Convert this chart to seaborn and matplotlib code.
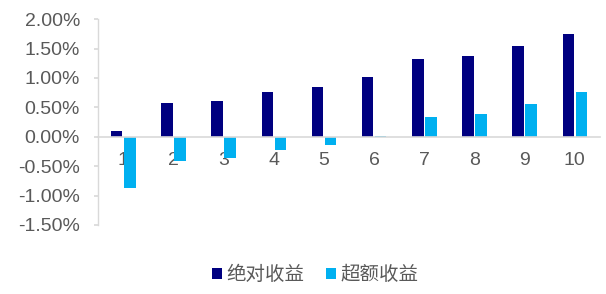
import matplotlib
matplotlib.use("Agg")
import matplotlib.pyplot as plt
import seaborn as sns
import pandas as pd
from matplotlib.ticker import FuncFormatter

categories = ["1", "2", "3", "4", "5", "6", "7", "8", "9", "10"]
absolute_ret = [0.10, 0.57, 0.61, 0.76, 0.84, 1.01, 1.32, 1.38, 1.54, 1.75]
excess_ret = [-0.87, -0.41, -0.37, -0.22, -0.14, 0.02, 0.33, 0.39, 0.55, 0.76]
series_names = ["绝对收益", "超额收益"]
colors = ["#000080", "#00B0F0"]

df = pd.DataFrame({
    "cat": categories * 2,
    "val": absolute_ret + excess_ret,
    "series": [series_names[0]] * len(categories) + [series_names[1]] * len(categories),
})

sns.set_theme(style="white")
plt.rcParams["font.family"] = ["Liberation Sans", "Noto Sans CJK SC", "DejaVu Sans"]

fig = plt.figure(figsize=(6.06, 2.94), dpi=100)
ax = fig.add_axes([0.162, 0.235, 0.828, 0.700])

sns.barplot(data=df, x="cat", y="val", hue="series", palette=colors,
            width=0.52, gap=0.12, ax=ax, order=categories,
            hue_order=series_names, edgecolor="none", saturation=1)

ax.set_xlim(-0.5, 9.5)
ax.set_ylim(-1.5, 2.0)
ax.set_yticks([-1.5, -1.0, -0.5, 0, 0.5, 1.0, 1.5, 2.0])
ax.yaxis.set_major_formatter(FuncFormatter(lambda v, p: f"{v:.2f}%"))
ax.set_xlabel("")
ax.set_ylabel("")

for s in ["top", "right"]:
    ax.spines[s].set_visible(False)
ax.spines["left"].set_color("#D9D9D9")
ax.spines["left"].set_linewidth(1.0)
ax.spines["bottom"].set_position(("data", 0))
ax.spines["bottom"].set_color("#D9D9D9")
ax.spines["bottom"].set_linewidth(1.2)
ax.set_axisbelow(True)

ax.tick_params(axis="y", which="both", left=True, length=3, color="#D9D9D9",
               labelsize=14, labelcolor="#595959", pad=10)
ax.tick_params(axis="x", bottom=False, length=0, labelsize=14,
               labelcolor="#595959", pad=11)

leg = ax.legend(loc="center", ncol=2,
                frameon=False, handlelength=0.5, handleheight=0.5,
                handletextpad=0.25, columnspacing=1.1,
                prop={"family": ["Noto Sans CJK SC"], "size": 14})
for t in leg.get_texts():
    t.set_color("#595959")
leg.set_bbox_to_anchor((0.52, 0.065), transform=fig.transFigure)

fig.savefig("out.png", dpi=100)
